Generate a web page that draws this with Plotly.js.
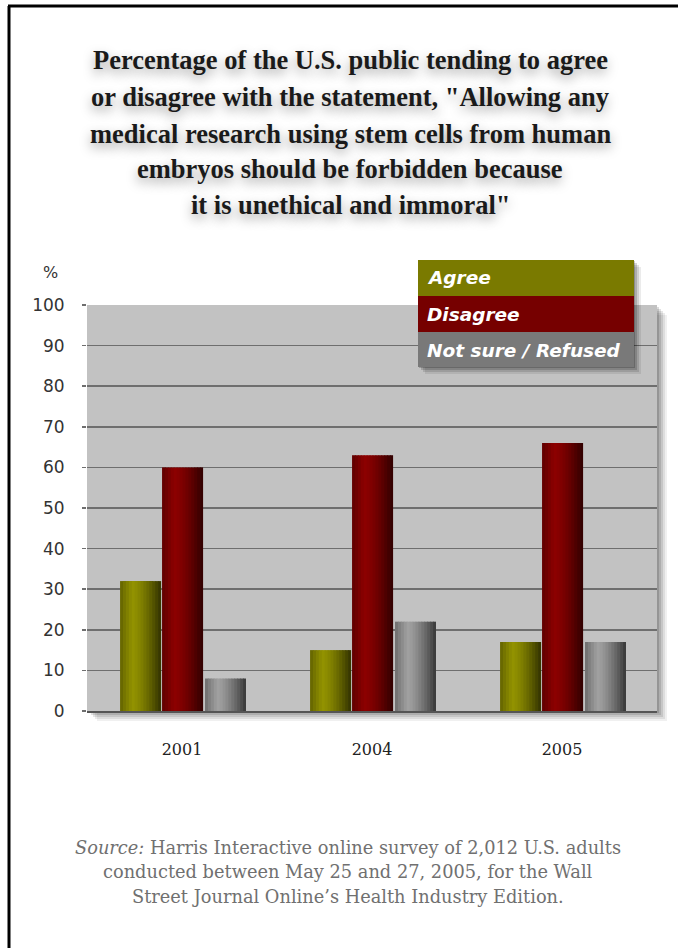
<!DOCTYPE html>
<html>
<head>
<meta charset="utf-8">
<script src="https://cdn.plot.ly/plotly-3.0.1.min.js"></script>
<style>
html,body{margin:0;padding:0;background:#fff;}
#chart{width:678px;height:948px;}
</style>
</head>
<body>
<div id="chart"></div>
<script>
// ---- data ----
const categories = ['2001', '2004', '2005'];
const agree = [32, 15, 17];
const disagree = [60, 63, 66];
const notSure = [8, 22, 17];
const seriesNames = ['Agree', 'Disagree', 'Not sure / Refused'];
const yTickValues = [0, 10, 20, 30, 40, 50, 60, 70, 80, 90, 100];
const yTickLabels = ['0', '10', '20', '30', '40', '50', '60', '70', '80', '90', '100'];
const titleLines = [
  'Percentage of the U.S. public tending to agree',
  'or disagree with the statement, "Allowing any',
  'medical research using stem cells from human',
  'embryos should be forbidden because',
  'it is unethical and immoral"'
];
const sourceLines = [
  '<i>Source:</i> Harris Interactive online survey of 2,012 U.S. adults',
  'conducted between May 25 and 27, 2005, for the Wall',
  'Street Journal Online\u2019s Health Industry Edition.'
];

// ---- styling / geometry ----
const W = 678, H = 948;
const L = 87, R = 657, T = 305, B = 711;
const px = x => (x - L) / (R - L);
const py = y => (B - y) / (B - T);

const baseColors = [[128, 128, 0], [122, 0, 0], [140, 140, 140]];
const offsets = [-0.326, -0.105, 0.121];
const barW = 0.216;
const N = 14;
function shade(t) {
  if (t < 0.3) return 0.78 + (1.15 - 0.78) * t / 0.3;
  return 1.15 - (1.15 - 0.38) * Math.pow((t - 0.3) / 0.7, 1.4);
}
function col(rgb, f) {
  return 'rgb(' + rgb.map(v => Math.max(0, Math.min(255, Math.round(v * f)))).join(',') + ')';
}
const seriesValues = [agree, disagree, notSure];
const traces = [];
seriesValues.forEach((vals, s) => {
  for (let i = 0; i < N; i++) {
    const t = (i + 0.5) / N;
    traces.push({
      type: 'bar',
      x: categories,
      y: vals,
      name: seriesNames[s],
      showlegend: false,
      offset: offsets[s] + i * barW / N,
      width: barW / N + (i < N - 1 ? 0.004 : 0),
      marker: {color: col(baseColors[s], shade(t)), line: {width: 0}},
      hoverinfo: 'x+y+name'
    });
  }
});

const shapes = [];
// plot-area shadow (below everything)
[[10, 0.06], [8, 0.08], [6, 0.1], [4, 0.12], [2, 0.14]].forEach(([d, op]) => {
  shapes.push({type: 'rect', xref: 'paper', yref: 'paper', layer: 'below',
    x0: px(L + d), x1: px(R + d), y0: py(B + d), y1: py(T + d),
    fillcolor: 'rgba(0,0,0,' + op + ')', line: {width: 0}});
});
// plot-area background
shapes.push({type: 'rect', xref: 'paper', yref: 'paper', layer: 'below',
  x0: 0, x1: 1, y0: 0, y1: 1, fillcolor: '#c2c2c2', line: {width: 0}});
// legend shadow
[[7, 0.08], [5, 0.12], [3, 0.16], [1, 0.2]].forEach(([d, op]) => {
  shapes.push({type: 'rect', xref: 'paper', yref: 'paper', layer: 'above',
    x0: px(418 + d), x1: px(634 + d), y0: py(367 + d), y1: py(260 + d),
    fillcolor: 'rgba(0,0,0,' + op + ')', line: {width: 0}});
});
const legendRows = [[260, 296], [296, 332], [332, 367]];
const legendColors = ['#7a7a00', '#760000', '#797979'];
legendRows.forEach(([a, b], i) => {
  shapes.push({type: 'rect', xref: 'paper', yref: 'paper', layer: 'above',
    x0: px(418), x1: px(634), y0: py(b), y1: py(a),
    fillcolor: legendColors[i], line: {width: 0}});
});
// page border (top & left)
shapes.push({type: 'line', xref: 'paper', yref: 'paper', x0: px(8), x1: px(690), y0: py(6), y1: py(6),
  line: {color: '#000', width: 3}});
shapes.push({type: 'line', xref: 'paper', yref: 'paper', x0: px(9), x1: px(9), y0: py(6), y1: py(960),
  line: {color: '#000', width: 3}});

const annotations = [];
const titleY = [60, 97, 134, 169, 205];
titleLines.forEach((txt, i) => {
  annotations.push({text: '<b>' + txt + '</b>', xref: 'paper', yref: 'paper',
    x: px(350), y: py(titleY[i]), xanchor: 'center', yanchor: 'middle', showarrow: false,
    font: {family: 'Liberation Serif, serif', size: 26.5, color: '#1a1a1a',
      shadow: '0px 5px 12px rgba(0,0,0,0.38)'}});
});
const srcY = [847, 871, 896];
sourceLines.forEach((txt, i) => {
  annotations.push({text: txt, xref: 'paper', yref: 'paper',
    x: px(348), y: py(srcY[i]), xanchor: 'center', yanchor: 'middle', showarrow: false,
    font: {family: 'DejaVu Serif, serif', size: 17.8, color: '#707070'}});
});
const legY = [278, 314, 350];
seriesNames.forEach((nm, i) => {
  annotations.push({text: '<b><i>' + nm + '</i></b>', xref: 'paper', yref: 'paper',
    x: px(425), y: py(legY[i]), xanchor: 'left', yanchor: 'middle', showarrow: false,
    font: {family: 'DejaVu Sans, sans-serif', size: 18.5, color: '#fff'}});
});
annotations.push({text: '%', xref: 'paper', yref: 'paper', x: px(50), y: py(272),
  xanchor: 'center', yanchor: 'middle', showarrow: false,
  font: {family: 'DejaVu Sans, sans-serif', size: 16, color: '#333'}});

const layout = {
  width: W, height: H,
  margin: {l: L, r: W - R, t: T, b: H - B, pad: 0},
  paper_bgcolor: '#fff',
  plot_bgcolor: 'rgba(0,0,0,0)',
  barmode: 'overlay',
  showlegend: false,
  xaxis: {type: 'category', range: [-0.5, 2.5], showgrid: false, zeroline: false,
    showline: true, linecolor: '#555', linewidth: 2, ticks: '',
    ticklabelstandoff: 23,
    tickfont: {family: 'DejaVu Serif, serif', size: 16, color: '#222'}},
  yaxis: {range: [0, 100], tickvals: yTickValues, ticktext: yTickLabels,
    showgrid: true, gridcolor: '#6e6e6e', gridwidth: 1.5, zeroline: false,
    showline: false, ticks: 'outside', ticklen: 4, tickcolor: '#6e6e6e', tickwidth: 1.5,
    ticklabelstandoff: 14,
    tickfont: {family: 'DejaVu Sans, sans-serif', size: 17, color: '#333'}},
  shapes: shapes,
  annotations: annotations
};

Plotly.newPlot('chart', traces, layout, {displayModeBar: false, staticPlot: true});
</script>
</body>
</html>
